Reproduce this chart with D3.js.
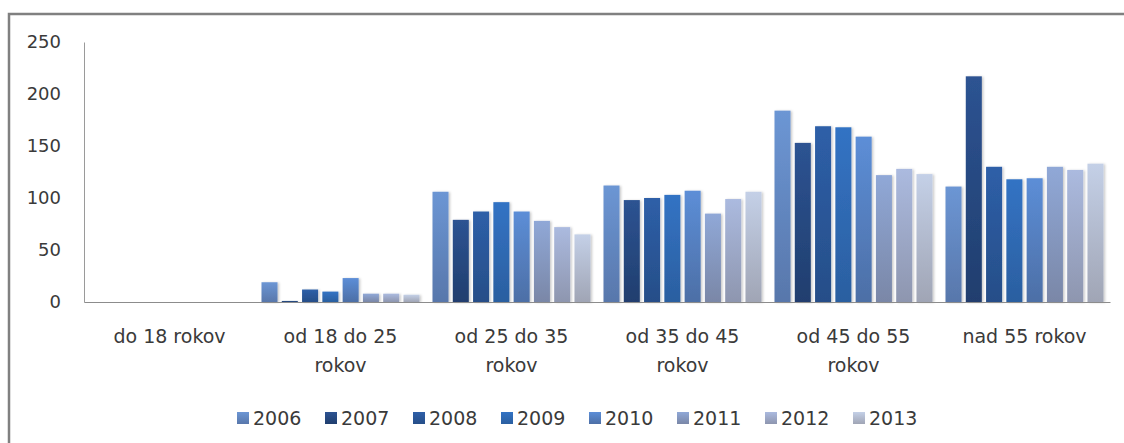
<!DOCTYPE html>
<html>
<head>
<meta charset="utf-8">
<script src="https://cdn.jsdelivr.net/npm/d3@7/dist/d3.min.js"></script>
<style>
  html, body { margin: 0; padding: 0; background: #fff; }
  svg { display: block; }
  text { font-family: "DejaVu Sans", sans-serif; fill: #3a3a3a; }
</style>
</head>
<body>
<svg id="chart" width="1124" height="443"></svg>
<script>
// Age groups on the horizontal axis
const categories = ["do 18 rokov", "od 18 do 25 rokov", "od 25 do 35 rokov", "od 35 do 45 rokov", "od 45 do 55 rokov", "nad 55 rokov"];
// One series per year
const years = ["2006", "2007", "2008", "2009", "2010", "2011", "2012", "2013"];
// Values by year, one entry per age group
const v2006 = [0, 19, 106, 112, 184, 111];
const v2007 = [0, 1, 79, 98, 153, 217];
const v2008 = [0, 12, 87, 100, 169, 130];
const v2009 = [0, 10, 96, 103, 168, 118];
const v2010 = [0, 23, 87, 107, 159, 119];
const v2011 = [0, 8, 78, 85, 122, 130];
const v2012 = [0, 8, 72, 99, 128, 127];
const v2013 = [0, 7, 65, 106, 123, 133];
const yTicks = [0, 50, 100, 150, 200, 250];

const seriesValues = [v2006, v2007, v2008, v2009, v2010, v2011, v2012, v2013];

// Per-year gradient colours (top, bottom)
const seriesColors = [
  ["#6c96d4", "#5877ab"],
  ["#2d5392", "#203e6e"],
  ["#2e5fa8", "#264e88"],
  ["#3373c4", "#2b5fa0"],
  ["#5c8ed7", "#4d6fa6"],
  ["#90a8d7", "#7a87a7"],
  ["#abbadf", "#8e96af"],
  ["#c4d0e7", "#a0a5b5"]
];

const svg = d3.select("#chart");
const defs = svg.append("defs");

years.forEach((yr, i) => {
  const g = defs.append("linearGradient")
    .attr("id", "grad" + yr)
    .attr("x1", 0).attr("y1", 0).attr("x2", 0).attr("y2", 1);
  g.append("stop").attr("offset", "0%").attr("stop-color", seriesColors[i][0]);
  g.append("stop").attr("offset", "100%").attr("stop-color", seriesColors[i][1]);
});

const shadow = defs.append("filter").attr("id", "barShadow")
  .attr("x", "-30%").attr("y", "-10%").attr("width", "160%").attr("height", "120%");
shadow.append("feDropShadow")
  .attr("dx", 1.5).attr("dy", 0.5).attr("stdDeviation", 1.3)
  .attr("flood-color", "#000").attr("flood-opacity", 0.22);

// Outer frame (top and left edges)
svg.append("path")
  .attr("d", "M9,443 V14 H1124")
  .attr("fill", "none")
  .attr("stroke", "#808080")
  .attr("stroke-width", 2.5);

const plotLeft = 84, plotRight = 1110, plotTop = 42, plotBottom = 302;

const x0 = d3.scaleBand()
  .domain(categories)
  .range([plotLeft, plotRight])
  .paddingInner(0.076)
  .paddingOuter(0.038);

const x1 = d3.scaleBand()
  .domain(years)
  .range([0, x0.bandwidth()])
  .paddingInner(0.21)
  .paddingOuter(0);

const y = d3.scaleLinear().domain([0, 250]).range([plotBottom, plotTop]);

// Y axis: line plus labels, no tick marks
const yAxis = d3.axisLeft(y).tickValues(yTicks).tickSize(0).tickPadding(23);
const gy = svg.append("g").attr("transform", `translate(${plotLeft},0)`).call(yAxis);
gy.select(".domain").attr("stroke", "#9a9a9a").attr("stroke-width", 1);
gy.selectAll("text")
  .style("font-family", "DejaVu Sans, sans-serif")
  .style("font-size", "18px")
  .attr("fill", "#3a3a3a");

// Bars
const groups = svg.append("g").selectAll("g")
  .data(categories)
  .join("g")
  .attr("transform", d => `translate(${x0(d)},0)`);

groups.selectAll("rect")
  .data((d, ci) => years.map((yr, si) => ({ yr, value: seriesValues[si][ci] })))
  .join("rect")
  .filter(d => d.value > 0)
  .attr("x", d => x1(d.yr))
  .attr("y", d => y(d.value))
  .attr("width", x1.bandwidth())
  .attr("height", d => y(0) - y(d.value))
  .attr("fill", d => `url(#grad${d.yr})`)
  .attr("filter", "url(#barShadow)");

// X axis baseline
const xAxis = d3.axisBottom(x0).tickSize(0).tickPadding(0);
const gx = svg.append("g").attr("transform", `translate(0,${plotBottom})`).call(xAxis);
gx.select(".domain").attr("stroke", "#8c8c8c").attr("stroke-width", 1.2);
gx.selectAll("text").remove();

// Category labels, wrapped to the group width
const fontPx = 19;
const labelLayer = svg.append("g")
  .style("font-family", "DejaVu Sans, sans-serif")
  .style("font-size", fontPx + "px")
  .attr("text-anchor", "middle");

categories.forEach(cat => {
  const cx = x0(cat) + x0.bandwidth() / 2;
  const t = labelLayer.append("text").attr("x", cx).attr("y", 343);
  const words = cat.split(" ");
  let line = [];
  let tspan = t.append("tspan").attr("x", cx).attr("dy", 0);
  words.forEach(w => {
    line.push(w);
    tspan.text(line.join(" "));
    if (tspan.node().getComputedTextLength() > 150 && line.length > 1) {
      line.pop();
      tspan.text(line.join(" "));
      line = [w];
      tspan = t.append("tspan").attr("x", cx).attr("dy", 29).text(w);
    }
  });
});

// Legend
const legendStart = 237, legendStep = 88;
const legend = svg.append("g")
  .style("font-family", "DejaVu Sans, sans-serif")
  .style("font-size", "19px");

const items = legend.selectAll("g")
  .data(years)
  .join("g")
  .attr("transform", (d, i) => `translate(${legendStart + i * legendStep},0)`);

items.append("rect")
  .attr("x", 0).attr("y", 412)
  .attr("width", 12).attr("height", 12)
  .attr("fill", d => `url(#grad${d})`);

items.append("text")
  .attr("x", 16).attr("y", 425)
  .text(d => d);
</script>
</body>
</html>
